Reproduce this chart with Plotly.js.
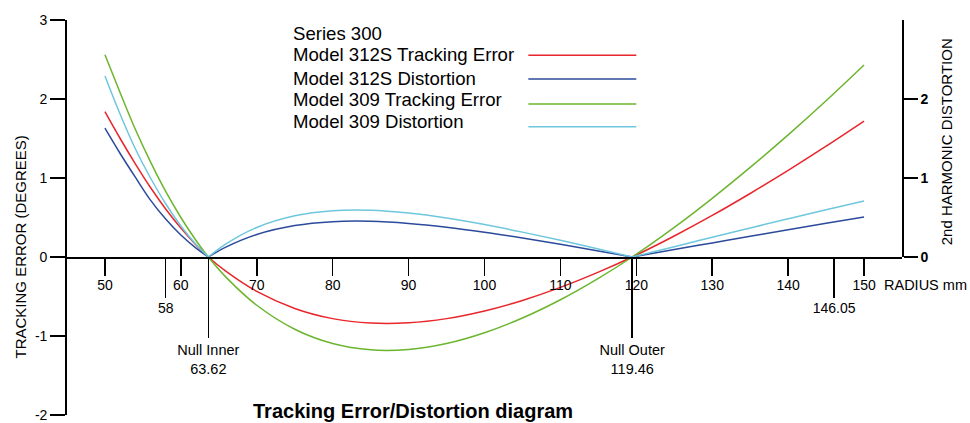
<!DOCTYPE html>
<html>
<head>
<meta charset="utf-8">
<script src="https://cdn.plot.ly/plotly-3.0.1.min.js"></script>
<style>html,body{margin:0;padding:0;background:#fff;}#chart{width:970px;height:423px;}</style>
</head>
<body>
<div id="chart"></div>
<script>
// ---- data ----
var radius = [50, 52, 54, 56, 58, 60, 62, 63.62, 66, 70, 75, 80, 85, 90, 95, 100, 105, 110, 115, 119.46, 125, 130, 135, 140, 145, 150];
var track312S = [1.84, 1.50, 1.18, 0.88, 0.608, 0.366, 0.153, 0, -0.186, -0.435, -0.651, -0.78, -0.836, -0.833, -0.78, -0.683, -0.55, -0.385, -0.192, 0, 0.266, 0.526, 0.804, 1.096, 1.402, 1.72];
var dist312S  = [1.63, 1.31, 1.01, 0.72, 0.48, 0.278, 0.112, 0, 0.129, 0.285, 0.398, 0.447, 0.452, 0.425, 0.377, 0.314, 0.241, 0.161, 0.077, 0, 0.094, 0.178, 0.262, 0.345, 0.426, 0.506];
var track309  = [2.56, 2.08, 1.617, 1.204, 0.83, 0.50, 0.209, 0, -0.261, -0.611, -0.914, -1.095, -1.175, -1.17, -1.095, -0.959, -0.772, -0.541, -0.27, 0, 0.375, 0.743, 1.134, 1.546, 1.978, 2.43];
var dist309   = [2.29, 1.806, 1.37, 1.0, 0.674, 0.393, 0.158, 0, 0.169, 0.374, 0.521, 0.586, 0.592, 0.556, 0.494, 0.411, 0.315, 0.211, 0.10, 0, 0.131, 0.25, 0.368, 0.483, 0.597, 0.709];

var seriesNames = ["Model 312S Tracking Error", "Model 312S Distortion", "Model 309 Tracking Error", "Model 309 Distortion"];
var legendTitle = "Series 300";
var chartTitle = "Tracking Error/Distortion diagram";
var xTickVals = [50, 60, 70, 80, 90, 100, 110, 120, 130, 140, 150];
var markVals = [58, 146.05];
var nullVals = [63.62, 119.46];
var nullNames = ["Null Inner", "Null Outer"];
var leftTicks = [-2, -1, 0, 1, 2, 3];
var rightTicks = [0, 1, 2];

var colors = ["#e8262b", "#2b4a9b", "#6cb52e", "#6fc7dd"];
var FONT = "Liberation Sans, Arial, sans-serif";

var traces = [];
// distortion curves on the right axis, split at the nulls so the V stays sharp
function addSplit(vals, color) {
  var cuts = [0];
  for (var i = 1; i < vals.length - 1; i++) { if (vals[i] === 0) cuts.push(i); }
  cuts.push(vals.length - 1);
  for (var c = 0; c < cuts.length - 1; c++) {
    traces.push({
      x: radius.slice(cuts[c], cuts[c + 1] + 1),
      y: vals.slice(cuts[c], cuts[c + 1] + 1),
      type: "scatter", mode: "lines",
      line: {color: color, width: 1.5, shape: "spline", smoothing: 1},
      xaxis: "x", yaxis: "y2", showlegend: false, hoverinfo: "skip"
    });
  }
}
addSplit(dist312S, colors[1]);
addSplit(dist309, colors[3]);
// tracking error curves on the left axis
traces.push({x: radius, y: track312S, type: "scatter", mode: "lines", line: {color: colors[0], width: 1.5, shape: "spline", smoothing: 1}, xaxis: "x", yaxis: "y", showlegend: false, hoverinfo: "skip"});
traces.push({x: radius, y: track309, type: "scatter", mode: "lines", line: {color: colors[2], width: 1.5, shape: "spline", smoothing: 1}, xaxis: "x", yaxis: "y", showlegend: false, hoverinfo: "skip"});
// empty traces so the extra tick axes get drawn
traces.push({x: [], y: [], type: "scatter", mode: "lines", xaxis: "x2", yaxis: "y", showlegend: false, hoverinfo: "skip"});
traces.push({x: [], y: [], type: "scatter", mode: "lines", xaxis: "x3", yaxis: "y", showlegend: false, hoverinfo: "skip"});

var annotations = [];
var legX = 0.2686;
annotations.push({text: legendTitle, xref: "paper", yref: "paper", x: legX, y: 0.9663, xanchor: "left", yanchor: "middle", showarrow: false, font: {family: FONT, size: 18.6, color: "#000"}});
var legTextY = [0.9114, 0.8524, 0.7975, 0.7425];
var legLineY = [0.9106, 0.8506, 0.7873, 0.7299];
var shapes = [];
for (var k = 0; k < seriesNames.length; k++) {
  annotations.push({text: seriesNames[k], xref: "paper", yref: "paper", x: legX, y: legTextY[k], xanchor: "left", yanchor: "middle", showarrow: false, font: {family: FONT, size: 18.6, color: "#000"}});
  shapes.push({type: "line", xref: "paper", yref: "paper", x0: 0.5525, x1: 0.6818, y0: legLineY[k], y1: legLineY[k], line: {color: colors[k], width: 1.5}});
}
annotations.push({text: chartTitle, xref: "paper", yref: "paper", x: 0.4147, y: 0.0101, xanchor: "center", yanchor: "middle", showarrow: false, font: {family: FONT, size: 20, color: "#000", weight: "bold"}});
annotations.push({text: "RADIUS mm", xref: "paper", yref: "paper", x: 0.9765, y: 0.329, xanchor: "left", yanchor: "middle", showarrow: false, font: {family: FONT, size: 14.5, color: "#000"}});
annotations.push({text: "TRACKING ERROR (DEGREES)", xref: "paper", yref: "paper", x: -0.0551, y: 0.4266, xanchor: "center", yanchor: "middle", textangle: -90, showarrow: false, font: {family: FONT, size: 15, color: "#000"}});
annotations.push({text: "2nd HARMONIC DISTORTION", xref: "paper", yref: "paper", x: 1.053, y: 0.6911, xanchor: "center", yanchor: "middle", textangle: -90, showarrow: false, font: {family: FONT, size: 15, color: "#000"}});

var xRange = [45, 155];
var commonX = {range: xRange, anchor: "free", position: 0.4, showgrid: false, zeroline: false, ticks: "outside", tickcolor: "#000", tickwidth: 1.6, tickfont: {family: FONT, size: 14, color: "#000"}, fixedrange: true};

var layout = {
  width: 970, height: 423,
  margin: {l: 67, r: 68, t: 20, b: 8, autoexpand: false},
  paper_bgcolor: "#fff", plot_bgcolor: "rgba(0,0,0,0)",
  showlegend: false,
  xaxis: Object.assign({}, commonX, {tickmode: "array", tickvals: xTickVals, ticktext: xTickVals.map(String), ticklen: 17, ticklabelstandoff: -3, showline: true, linecolor: "#000", linewidth: 1.8}),
  xaxis2: Object.assign({}, commonX, {overlaying: "x", tickmode: "array", tickvals: markVals, ticktext: markVals.map(String), ticklen: 40, showline: false, ticklabelstandoff: -2}),
  xaxis3: Object.assign({}, commonX, {overlaying: "x", tickmode: "array", tickvals: nullVals, ticktext: nullVals.map(function (v, i) { return nullNames[i] + "<br>" + v; }), ticklen: 80, showline: false, ticklabelstandoff: 0, tickfont: {family: FONT, size: 14.5, color: "#000"}}),
  yaxis: {range: [-2, 3], domain: [0, 1], anchor: "x", tickmode: "array", tickvals: leftTicks, ticktext: leftTicks.map(String), ticks: "outside", ticklen: 15, tickwidth: 1.6, tickcolor: "#000", showline: true, linecolor: "#000", linewidth: 1.8, showgrid: false, zeroline: false, tickfont: {family: FONT, size: 14, color: "#000"}, fixedrange: true},
  yaxis2: {range: [0, 3], domain: [0.4, 1], anchor: "x", side: "right", tickmode: "array", tickvals: rightTicks, ticktext: rightTicks.map(String), ticks: "outside", ticklen: 14, tickwidth: 1.6, tickcolor: "#000", showline: true, linecolor: "#000", linewidth: 1.8, showgrid: false, zeroline: false, tickfont: {family: FONT, size: 14, color: "#000", weight: "bold"}, fixedrange: true},
  annotations: annotations,
  shapes: shapes
};

Plotly.newPlot("chart", traces, layout, {staticPlot: true, displayModeBar: false});
</script>
</body>
</html>
